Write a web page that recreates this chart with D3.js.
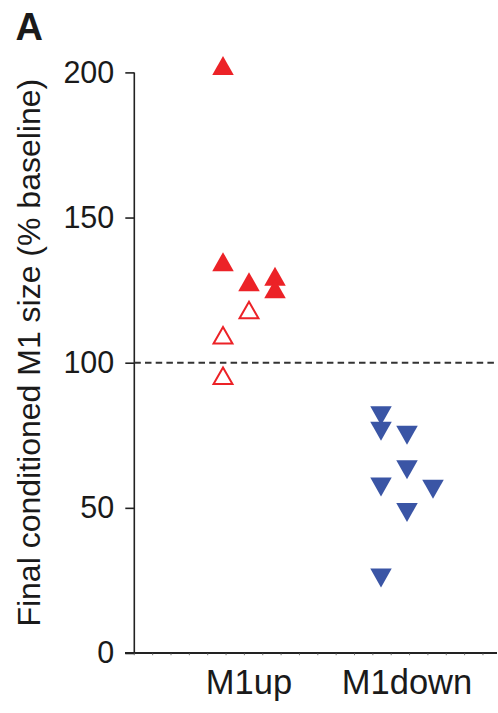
<!DOCTYPE html>
<html>
<head>
<meta charset="utf-8">
<script src="https://cdn.jsdelivr.net/npm/d3@7"></script>
<style>
  html, body { margin: 0; padding: 0; background: #fff; }
  svg { display: block; font-family: "Liberation Sans", Arial, Helvetica, sans-serif; }
</style>
</head>
<body>
<svg id="chart" width="498" height="713"></svg>
<script>
// Groups on the x axis
const groups = ["M1up", "M1down"];

// M1up animals: final size (% baseline), sub-column and whether criterion was met (filled)
const upValues = [202.4, 134.8, 127.9, 129.8, 125.5, 118.2, 109.5, 95.6];
const upSlots  = [0, 0, 1, 2, 2, 1, 0, 0];
const upFilled = [true, true, true, true, true, false, false, false];

// M1down animals
const downValues = [81.7, 76.4, 75.0, 63.1, 57.2, 56.4, 48.4, 25.8];
const downSlots  = [0, 0, 1, 1, 0, 2, 1, 0];

// Axis ticks and reference level
const yTicks = [0, 50, 100, 150, 200];
const baseline = 100;

const svg = d3.select("#chart");

const y = d3.scaleLinear().domain([0, 200]).range([653, 72.4]);
const x = d3.scalePoint().domain(groups).range([249, 407]);
const slot = d3.scalePoint().domain([0, 1, 2]).range([-26, 26]);

const axisX = 134.3;
const red = "#ec2227";
const blue = "#3a55a5";
const ink = "#1a1a1a";
const font = "Liberation Sans, Arial, sans-serif";

// Y axis
const yAxis = d3.axisLeft(y).tickValues(yTicks).tickSize(9).tickPadding(11);
const gy = svg.append("g").attr("transform", `translate(${axisX},0)`).call(yAxis);
gy.select(".domain").attr("stroke", "#222").attr("stroke-width", 1.6).attr("d", `M0,${y(200)}V${y(0)}`);
gy.selectAll(".tick line").attr("stroke", "#222").attr("stroke-width", 1.6);
gy.selectAll(".tick text").attr("font-size", 30.5).attr("fill", ink).attr("font-family", font);

// X axis baseline with faint minor ticks
const xLine = d3.scaleLinear().domain([0, 1]).range([125, 497]);
svg.append("line")
  .attr("x1", xLine(0)).attr("x2", xLine(1))
  .attr("y1", y(0)).attr("y2", y(0))
  .attr("stroke", "#222").attr("stroke-width", 1.8);
const minor = d3.range(axisX, 490, 18.35);
svg.append("g").selectAll("line").data(minor).join("line")
  .attr("x1", d => d).attr("x2", d => d)
  .attr("y1", y(0)).attr("y2", y(0) + 2.2)
  .attr("stroke", "#555").attr("stroke-width", 0.8);

// Group labels
svg.append("g").selectAll("text").data(groups).join("text")
  .attr("x", d => x(d)).attr("y", 694)
  .attr("text-anchor", "middle")
  .attr("font-size", 34.5).attr("fill", ink).attr("font-family", font)
  .text(d => d);

// Y axis title
svg.append("text")
  .attr("transform", `translate(40,${(y(0) + y(200)) / 2 - 10}) rotate(-90)`)
  .attr("text-anchor", "middle")
  .attr("font-size", 32).attr("fill", ink).attr("font-family", font)
  .text("Final conditioned M1 size (% baseline)");

// Panel letter
svg.append("text")
  .attr("x", 15.5).attr("y", 40)
  .attr("font-size", 38).attr("font-weight", "bold").attr("fill", ink).attr("font-family", font)
  .text("A");

// Baseline reference
svg.append("line")
  .attr("x1", axisX).attr("x2", 496)
  .attr("y1", y(baseline)).attr("y2", y(baseline))
  .attr("stroke", "#333").attr("stroke-width", 2)
  .attr("stroke-dasharray", "6.5,4.2");

// Triangles centred on their bounding box
const tw = 21.5, th = 19;
const upTri = `M0,${-th / 2}L${tw / 2},${th / 2}L${-tw / 2},${th / 2}Z`;
const upOpen = `M0,${-th / 2 + 1.5}L${tw / 2 - 1.3},${th / 2 - 1}L${-tw / 2 + 1.3},${th / 2 - 1}Z`;
const downTri = `M0,${th / 2}L${tw / 2},${-th / 2}L${-tw / 2},${-th / 2}Z`;

const upData = upValues.map((v, i) => ({ v, s: upSlots[i], f: upFilled[i] }));
svg.append("g").selectAll("path").data(upData).join("path")
  .attr("transform", d => `translate(${x("M1up") + slot(d.s)},${y(d.v)})`)
  .attr("d", d => d.f ? upTri : upOpen)
  .attr("fill", d => d.f ? red : "#fff")
  .attr("stroke", d => d.f ? "none" : red)
  .attr("stroke-width", 2);

const downData = downValues.map((v, i) => ({ v, s: downSlots[i] }));
svg.append("g").selectAll("path").data(downData).join("path")
  .attr("transform", d => `translate(${x("M1down") + slot(d.s)},${y(d.v)})`)
  .attr("d", downTri)
  .attr("fill", blue);
</script>
</body>
</html>
